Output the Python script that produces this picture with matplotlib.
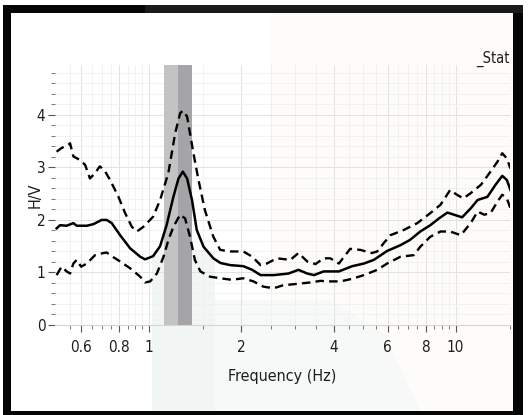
import matplotlib
matplotlib.use("Agg")
import matplotlib.pyplot as plt
from matplotlib import font_manager
from matplotlib.patches import Rectangle, Polygon
from matplotlib.ticker import FixedLocator, NullFormatter, FixedFormatter

# H/V spectral ratio: mean curve and mean +/- one standard deviation
freq_mean = [0.499, 0.512, 0.538, 0.566, 0.58, 0.626, 0.658, 0.70, 0.727, 0.755,
             0.804, 0.867, 0.935, 0.97, 1.03, 1.086, 1.14, 1.20, 1.247, 1.288,
             1.33, 1.38, 1.43, 1.505, 1.62, 1.71, 1.84, 2.03, 2.17, 2.31, 2.55,
             2.85, 3.07, 3.28, 3.45, 3.71, 3.9, 4.16, 4.6, 5.02, 5.41, 5.98,
             6.61, 7.1, 7.67, 8.27, 8.83, 9.4, 9.88, 10.5, 11.2, 11.8, 12.7,
             13.5, 14.2, 14.7, 15.1]
hv_mean = [1.84, 1.90, 1.89, 1.94, 1.89, 1.89, 1.92, 2.00, 2.00, 1.94,
           1.71, 1.46, 1.30, 1.25, 1.31, 1.50, 1.90, 2.44, 2.79, 2.92,
           2.79, 2.38, 1.81, 1.49, 1.27, 1.18, 1.14, 1.12, 1.05, 0.95, 0.95,
           0.98, 1.05, 0.98, 0.95, 1.02, 1.02, 1.02, 1.12, 1.17, 1.24, 1.41,
           1.52, 1.62, 1.78, 1.90, 2.03, 2.14, 2.10, 2.05, 2.22, 2.38, 2.44,
           2.67, 2.84, 2.76, 2.57]

freq_upper = [0.499, 0.518, 0.545, 0.552, 0.566, 0.595, 0.618, 0.641, 0.666, 0.69,
              0.714, 0.746, 0.794, 0.835, 0.878, 0.912, 0.958, 1.03, 1.086, 1.156,
              1.216, 1.262, 1.288, 1.33, 1.395, 1.449, 1.52, 1.62, 1.706, 1.84,
              2.03, 2.17, 2.31, 2.42, 2.61, 2.89, 3.07, 3.28, 3.49, 3.71, 3.9,
              4.16, 4.53, 4.89, 5.33, 5.55, 5.83, 6.13, 6.78, 7.5, 8.27, 8.93,
              9.6, 10.1, 10.6, 11.2, 12.1, 13.0, 13.7, 14.2, 14.7, 15.1]
hv_upper = [3.30, 3.37, 3.43, 3.46, 3.21, 3.14, 3.05, 2.79, 2.89, 3.02,
            2.95, 2.76, 2.44, 2.13, 1.87, 1.78, 1.87, 2.06, 2.38, 2.90,
            3.65, 4.03, 4.08, 3.97, 3.27, 2.76, 2.19, 1.68, 1.43, 1.40,
            1.40, 1.30, 1.14, 1.17, 1.27, 1.24, 1.37, 1.21, 1.16, 1.27, 1.27,
            1.17, 1.45, 1.43, 1.37, 1.40, 1.56, 1.71, 1.81, 1.94, 2.13, 2.29,
            2.57, 2.48, 2.41, 2.51, 2.67, 2.92, 3.11, 3.27, 3.17, 2.98]

freq_lower = [0.499, 0.518, 0.538, 0.552, 0.566, 0.58, 0.60, 0.626, 0.666, 0.709,
              0.727, 0.746, 0.804, 0.867, 0.935, 0.97, 1.008, 1.06, 1.114, 1.156,
              1.20, 1.262, 1.31, 1.36, 1.41, 1.47, 1.58, 1.706, 1.86, 2.03,
              2.19, 2.36, 2.55, 2.75, 2.89, 3.11, 3.36, 3.62, 3.9, 4.21, 4.6,
              5.02, 5.55, 5.98, 6.61, 7.3, 7.67, 8.27, 8.93, 9.6, 10.4, 11.2,
              11.8, 12.4, 13.0, 13.7, 14.2, 14.7, 15.1]
hv_lower = [0.95, 1.11, 1.02, 0.98, 1.17, 1.24, 1.11, 1.17, 1.33, 1.37,
            1.38, 1.33, 1.21, 1.08, 0.92, 0.81, 0.83, 0.98, 1.30, 1.62,
            1.87, 2.10, 2.03, 1.68, 1.24, 1.02, 0.92, 0.89, 0.86, 0.89,
            0.83, 0.73, 0.70, 0.76, 0.77, 0.79, 0.81, 0.84, 0.83, 0.83, 0.88,
            0.95, 1.05, 1.17, 1.30, 1.33, 1.49, 1.68, 1.78, 1.78, 1.71, 1.94,
            2.16, 2.10, 2.13, 2.35, 2.48, 2.41, 2.22]

# peak frequency window (f0 / sigma, f0, f0 * sigma)
f0_low, f0, f0_high = 1.12, 1.244, 1.382

x_major = [0.6, 0.8, 1, 2, 4, 6, 8, 10]
x_major_labels = ["0.6", "0.8", "1", "2", "4", "6", "8", "10"]
x_minor = [0.55, 0.65, 0.7, 0.75, 0.85, 0.9, 0.95, 1.5, 2.5, 3, 3.5, 4.5, 5,
           5.5, 6.5, 7, 7.5, 8.5, 9, 9.5, 15]
y_major = [0, 1, 2, 3, 4]
y_minor = [0.2, 0.4, 0.6, 0.8, 1.2, 1.4, 1.6, 1.8, 2.2, 2.4, 2.6, 2.8,
           3.2, 3.4, 3.6, 3.8, 4.2, 4.4, 4.6, 4.8]

installed = {(f.name, f.stretch) for f in font_manager.fontManager.ttflist}
narrow_names = {n for n, s in installed if "Narrow" in n or "Condensed" in n}
if "Liberation Sans Narrow" in narrow_names:
    FONT = dict(family=["Liberation Sans Narrow", "DejaVu Sans"])
else:
    FONT = dict(family=["DejaVu Sans"], stretch="condensed")
plt.rcParams["font.family"] = FONT["family"]
if "stretch" in FONT:
    plt.rcParams["font.stretch"] = FONT["stretch"]

W, H = 530, 415
fig = plt.figure(figsize=(W / 100, H / 100), dpi=100)
fig.patch.set_facecolor("white")


def fx(px):
    return px / W


def fy(py):
    return 1 - py / H


# black frame around the white panel
fig.patches.append(Rectangle((fx(3), fy(415)), fx(520), 410 / H,
                             transform=fig.transFigure, facecolor="#050505",
                             edgecolor="none", zorder=-10))
fig.patches.append(Rectangle((fx(145), fy(13)), fx(378), 8 / H,
                             transform=fig.transFigure, facecolor="#1a1a1a",
                             edgecolor="none", zorder=-9))
fig.patches.append(Rectangle((fx(11), fy(411)), fx(502), 398 / H,
                             transform=fig.transFigure, facecolor="white",
                             edgecolor="none", zorder=-8))
# faint background emblem
fig.patches.append(Polygon([(fx(270), fy(13)), (fx(513), fy(13)), (fx(513), fy(411)),
                            (fx(270), fy(411))], closed=True, transform=fig.transFigure,
                           facecolor="#fdfcf9", edgecolor="none", zorder=-7))
fig.patches.append(Polygon([(fx(152), fy(250)), (fx(215), fy(250)), (fx(215), fy(411)),
                            (fx(152), fy(411))], closed=True, transform=fig.transFigure,
                           facecolor="#f1f5f3", edgecolor="none", zorder=-6))
fig.patches.append(Polygon([(fx(215), fy(300)), (fx(330), fy(300)), (fx(385), fy(335)),
                            (fx(420), fy(411)), (fx(215), fy(411))], closed=True,
                           transform=fig.transFigure, facecolor="#f6f9f7",
                           edgecolor="none", zorder=-6))

ax = fig.add_axes([fx(55), fy(325), fx(455), (325 - 65) / H])
ax.set_facecolor("none")
ax.set_xscale("log")
ax.set_xlim(0.493, 15.05)
ax.set_ylim(0, 4.95)

ax.axvspan(f0_low, f0, color="#c3c3c3", lw=0, zorder=1)
ax.axvspan(f0, f0_high, color="#a5a5a8", lw=0, zorder=1)

ax.plot(freq_upper, hv_upper, color="black", lw=1.7, ls=(0, (3.6, 2.2)), zorder=3)
ax.plot(freq_lower, hv_lower, color="black", lw=1.7, ls=(0, (3.6, 2.2)), zorder=3)
ax.plot(freq_mean, hv_mean, color="black", lw=1.8, zorder=4)

ax.xaxis.set_major_locator(FixedLocator(x_major))
ax.xaxis.set_major_formatter(FixedFormatter(x_major_labels))
ax.xaxis.set_minor_locator(FixedLocator(x_minor))
ax.xaxis.set_minor_formatter(NullFormatter())
ax.yaxis.set_major_locator(FixedLocator(y_major))
ax.yaxis.set_minor_locator(FixedLocator(y_minor))

ax.grid(which="major", color="#e2e2e2", lw=0.7, zorder=0)
ax.grid(which="minor", color="#f0f0f0", lw=0.6, zorder=0)
ax.set_axisbelow(True)

for side in ("top", "right", "left"):
    ax.spines[side].set_visible(False)
ax.spines["bottom"].set_color("#d5d5d5")
ax.spines["bottom"].set_linewidth(0.8)

ax.tick_params(which="major", direction="out", length=5, width=0.8, color="#555555",
               labelsize=11, labelcolor="#1e1e1e")
ax.tick_params(axis="x", which="major", pad=6)
ax.tick_params(axis="y", which="major", pad=2)
ax.tick_params(which="minor", direction="out", length=3, width=0.7, color="#777777")

ax.set_xlabel("Frequency (Hz)", fontsize=11.5, color="#1e1e1e", labelpad=10)
ax.set_ylabel("H/V", fontsize=11.5, color="#1e1e1e")
ax.yaxis.set_label_coords(-0.028, 0.5)

fig.text(fx(510), fy(63), "_Stat", ha="right", va="baseline", fontsize=10.5,
         color="#1e1e1e")

fig.savefig("out.png", dpi=100)
